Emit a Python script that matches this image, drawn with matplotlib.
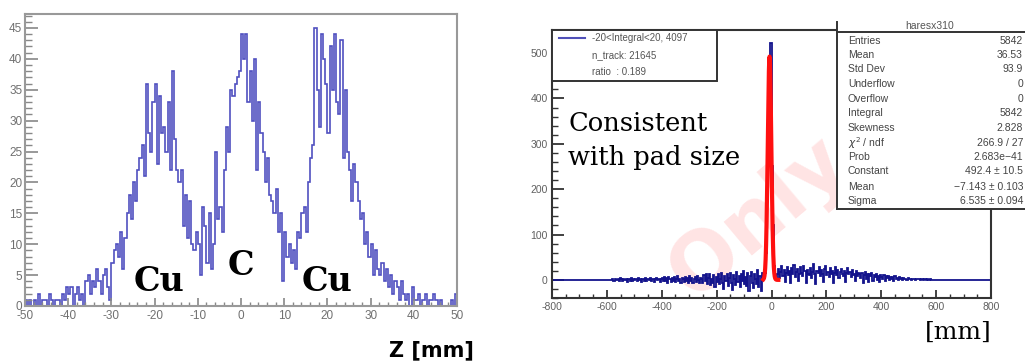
import numpy as np
import matplotlib
matplotlib.use("Agg")
import matplotlib.pyplot as plt
from matplotlib.patches import Rectangle
from matplotlib.lines import Line2D
from matplotlib.ticker import MultipleLocator

plt.rcParams['axes.unicode_minus'] = False

# ---- left panel: Z distribution, 0.5 mm bins from -50 to 50 ----
z_lo, z_hi = -50, 50
z_counts = [
    1, 0, 1, 0, 1, 0, 2, 0, 1, 1,
    0, 2, 1, 0, 1, 1, 0, 2, 1, 3,
    2, 3, 0, 2, 3, 1, 2, 0, 4, 5,
    2, 4, 3, 6, 4, 2, 5, 6, 3, 1,
    7, 9, 10, 8, 12, 6, 11, 15, 18, 14,
    20, 17, 22, 24, 26, 21, 36, 28, 25, 33,
    36, 23, 34, 28, 29, 25, 33, 22, 38, 27,
    22, 20, 22, 13, 18, 11, 17, 10, 9, 12,
    10, 5, 16, 13, 7, 15, 6, 10, 25, 14,
    16, 12, 22, 29, 25, 35, 34, 36, 37, 38,
    44, 40, 44, 33, 38, 30, 40, 22, 33, 28,
    25, 20, 24, 18, 17, 15, 19, 12, 15, 4,
    12, 8, 10, 7, 9, 6, 12, 11, 15, 16,
    12, 20, 24, 26, 45, 35, 29, 44, 40, 36,
    28, 42, 35, 44, 33, 31, 43, 24, 35, 25,
    22, 17, 23, 20, 17, 14, 15, 10, 12, 8,
    10, 5, 9, 6, 5, 7, 4, 6, 3, 5,
    2, 4, 3, 1, 4, 2, 1, 2, 0, 3,
    1, 1, 2, 0, 1, 2, 0, 1, 1, 2,
    1, 0, 1, 0, 0, 0, 0, 1, 0, 2,
]
target_labels = ["Cu", "C", "Cu"]
target_pos = [-19, 0, 20]

# ---- right panel: residual histogram, 4 mm bins from -800 to 800 ----
x_lo, x_hi = -800, 800
res_far_left = [0] * 55
res_left_outer = [1, -2, 3, 0, -1, 2, -3, 4, 1, -2, 3, -1, 2, -4, 3, 1, -2, 4, -3, 2,
                  0, 3, -2, 5, -1, 2, -4, 3, 1, -3, 4, -2, 2, -1, 5, -3, 1, 3, -4, 2,
                  4, -1, 3, -5, 2]
res_left_mid = [5, -3, 6, -2, 4, -6, 7, 1, -4, 5, -2, 6, -5, 3, 8, -3, 2, -7, 5, 1,
                -4, 7, -2, 4, -6, 9, -3, 5, -8, 2, 6, -4, 8, -1, -7, 5, 3]
res_left_inner = [-6, 10, -3, 12, -9, 5, 14, -12, 3, -8, 11, -15, 6, -4, 13, -10, 2, 16,
                  -7, -20, 9, -3, 12, -14, 4, 15, -8, -22, 10, 3, -11, 18, -5, 8, -16, 12,
                  -2, 20, -9, 6, -13, 15, -24, 9, 17, -6, -18, 14, 3, -10, 22, -15, 8, -25,
                  16, 4]
res_peak = [5, 15, 60, 180, 360, 480, 522, 250, 120, 30, 10, 3]
res_right_inner = [12, 25, 5, 18, 30, 8, 22, -4, 15, 28, 10, 20, -8, 26, 14, 32, 6, 18,
                   24, -2, 12, 28, 16, 8, 30, 20, -6, 22, 14, 10, 26, 4, 18, 34, 12, -10,
                   20, 16, 28, 8, 22, 14, -4, 24, 30, 10, 18, 6, 26, 12, 20, -8, 16, 28,
                   10, 22, 4, 18, 24, 14, 8, 20, -5, 16, 26, 12, 18, 6, 22, 10, 14, -3,
                   20, 8, 16]
res_right_outer = [12, 4, 16, -6, 10, 18, 2, 14, -4, 12, 8, 15, -2, 10, 6, 13, 0, 9, -5,
                   11, 7, 3, 10, -3, 8, 5, 9, -1, 7, 2, 6, -2, 8, 3, 5, -1, 6, 2, 4, 0,
                   5, 1, 3, -1, 4, 2, 3, 0, 2, 1, 3, 0, 2, 1, 2, -1, 1, 2, 0, 1,
                   1, 0, 1, 0, 1, 0]
res_far_right = [0] * 54
res_counts = (res_far_left + res_left_outer + res_left_mid + res_left_inner + res_peak
              + res_right_inner + res_right_outer + res_far_right)

fit_const, fit_mean, fit_sigma = 492.4, -7.143, 6.535
fit_range = (-30, 25)

legend_lines = ["-20<Integral<20, 4097", "n_track: 21645", "ratio  : 0.189"]
stats_title = "haresx310"
stats_names = ["Entries", "Mean", "Std Dev", "Underflow", "Overflow", "Integral",
               "Skewness", r"$\chi^2$ / ndf", "Prob", "Constant", "Mean", "Sigma"]
stats_values = ["5842", "36.53", "93.9", "0", "0", "5842", "2.828", "266.9 / 27",
                "2.683e\u221241", "492.4 \u00b1 10.5", "\u22127.143 \u00b1 0.103",
                "6.535 \u00b1 0.094"]

W, H = 1025, 361
def fx(px):
    return px / W
def fy(py):
    return 1 - py / H

fig = plt.figure(figsize=(W / 100, H / 100), dpi=100)
sans = ['Liberation Sans', 'DejaVu Sans']

# left panel
ax1 = fig.add_axes([fx(25), fy(306), fx(457) - fx(25), fy(14) - fy(306)])
edges = np.linspace(z_lo, z_hi, len(z_counts) + 1)
ax1.stairs(z_counts, edges, color='#2424b0', lw=1.2, alpha=0.8)
ax1.set_xlim(z_lo, z_hi)
ax1.set_ylim(0, 47.25)
ax1.xaxis.set_major_locator(MultipleLocator(10))
ax1.xaxis.set_minor_locator(MultipleLocator(2))
ax1.yaxis.set_major_locator(MultipleLocator(5))
ax1.yaxis.set_minor_locator(MultipleLocator(1))
ax1.tick_params(axis='y', which='major', direction='in', length=9.5, width=1.2,
                color='#888888', labelcolor='#707070', labelsize=8.5, pad=2)
ax1.tick_params(axis='y', which='minor', direction='in', length=5, width=1.0, color='#888888')
ax1.tick_params(axis='x', which='major', direction='in', length=6, width=1.2,
                color='#888888', labelcolor='#707070', labelsize=8.5, pad=3)
ax1.tick_params(axis='x', which='minor', direction='in', length=3, width=1.0, color='#888888')
for s in ax1.spines.values():
    s.set_color('#999999')
    s.set_linewidth(1.5)
for lab in ax1.get_xticklabels() + ax1.get_yticklabels():
    lab.set_family(sans)

label_y = [2.5, 5.0, 2.5]
for lab, zp, ly in zip(target_labels, target_pos, label_y):
    ax1.text(zp, ly, lab, ha='center', va='baseline', fontsize=24,
             family='DejaVu Serif', fontweight='bold', color='black')
fig.text(fx(389), fy(350), "Z [mm]", ha='left', va='center', fontsize=15,
         fontweight='bold', family='DejaVu Sans')

# right panel
ax2 = fig.add_axes([fx(552), fy(298), fx(991) - fx(552), fy(30) - fy(298)])
ax2.text(0.47, 0.3, "Only", transform=ax2.transAxes, rotation=40, fontsize=58,
         fontweight='bold', color='#ff6060', alpha=0.17, ha='center', va='center',
         family='DejaVu Sans', zorder=0)
redges = np.linspace(x_lo, x_hi, len(res_counts) + 1)
ax2.stairs(res_counts, redges, color='#14148c', lw=1.3, zorder=2)
xf = np.linspace(fit_range[0], fit_range[1], 200)
ax2.plot(xf, fit_const * np.exp(-0.5 * ((xf - fit_mean) / fit_sigma) ** 2),
         color='#ff1010', lw=3, zorder=3)
ax2.set_xlim(x_lo, x_hi)
ax2.set_ylim(-40, 551)
ax2.xaxis.set_major_locator(MultipleLocator(200))
ax2.xaxis.set_minor_locator(MultipleLocator(50))
ax2.yaxis.set_major_locator(MultipleLocator(100))
ax2.yaxis.set_minor_locator(MultipleLocator(20))
ax2.tick_params(axis='y', which='major', direction='in', length=8.5, width=1.3,
                color='#333333', labelcolor='#606060', labelsize=7.5, pad=3)
ax2.tick_params(axis='y', which='minor', direction='in', length=4.5, width=1.0, color='#333333')
ax2.tick_params(axis='x', which='major', direction='in', length=6, width=1.3,
                color='#333333', labelcolor='#606060', labelsize=7.5, pad=3)
ax2.tick_params(axis='x', which='minor', direction='in', length=3, width=1.0, color='#333333')
for s in ax2.spines.values():
    s.set_color('#333333')
    s.set_linewidth(1.5)
for lab in ax2.get_xticklabels() + ax2.get_yticklabels():
    lab.set_family(sans)

fig.text(fx(568), fy(131), "Consistent", fontsize=18.5, family='DejaVu Serif', va='baseline')
fig.text(fx(568), fy(165), "with pad size", fontsize=18.5, family='DejaVu Serif', va='baseline')
fig.text(fx(925), fy(339), "[mm]", fontsize=18, family='DejaVu Serif', va='baseline')

# legend box
fig.add_artist(Rectangle((fx(552), fy(81)), fx(717) - fx(552), fy(30) - fy(81),
                         transform=fig.transFigure, facecolor='white',
                         edgecolor='#333333', lw=1.4, zorder=5))
fig.add_artist(Line2D([fx(559), fx(585)], [fy(38), fy(38)], transform=fig.transFigure,
                      color='#5050b8', lw=1.5, zorder=6))
for i, t in enumerate(legend_lines):
    fig.text(fx(592), fy(38 + 17 * i), t, fontsize=7, family=sans, color='#555555',
             va='center', zorder=6)

# stats box
fig.add_artist(Rectangle((fx(837), fy(209)), fx(1030) - fx(837), fy(22) - fy(209),
                         transform=fig.transFigure, facecolor='white',
                         edgecolor='none', zorder=5))
for xs, ys in [([837, 837], [22, 209]), ([837, 1025], [32, 32]), ([837, 1025], [209, 209])]:
    fig.add_artist(Line2D([fx(v) for v in xs], [fy(v) for v in ys],
                          transform=fig.transFigure, color='#333333', lw=1.4, zorder=6))
fig.text(fx(930), fy(26), stats_title, fontsize=7.5, family=sans, color='#555555',
         ha='center', va='center', zorder=6)
row_y = [41, 55, 69, 84, 99, 113, 128, 143, 157, 171, 187, 201]
for ry, nm, vl in zip(row_y, stats_names, stats_values):
    fig.text(fx(848), fy(ry), nm, fontsize=7.5, family=sans, color='#444444',
             va='center', zorder=6)
    fig.text(fx(1023), fy(ry), vl, fontsize=7.5, family=sans, color='#444444',
             va='center', ha='right', zorder=6)

fig.savefig("out.png", dpi=100)
